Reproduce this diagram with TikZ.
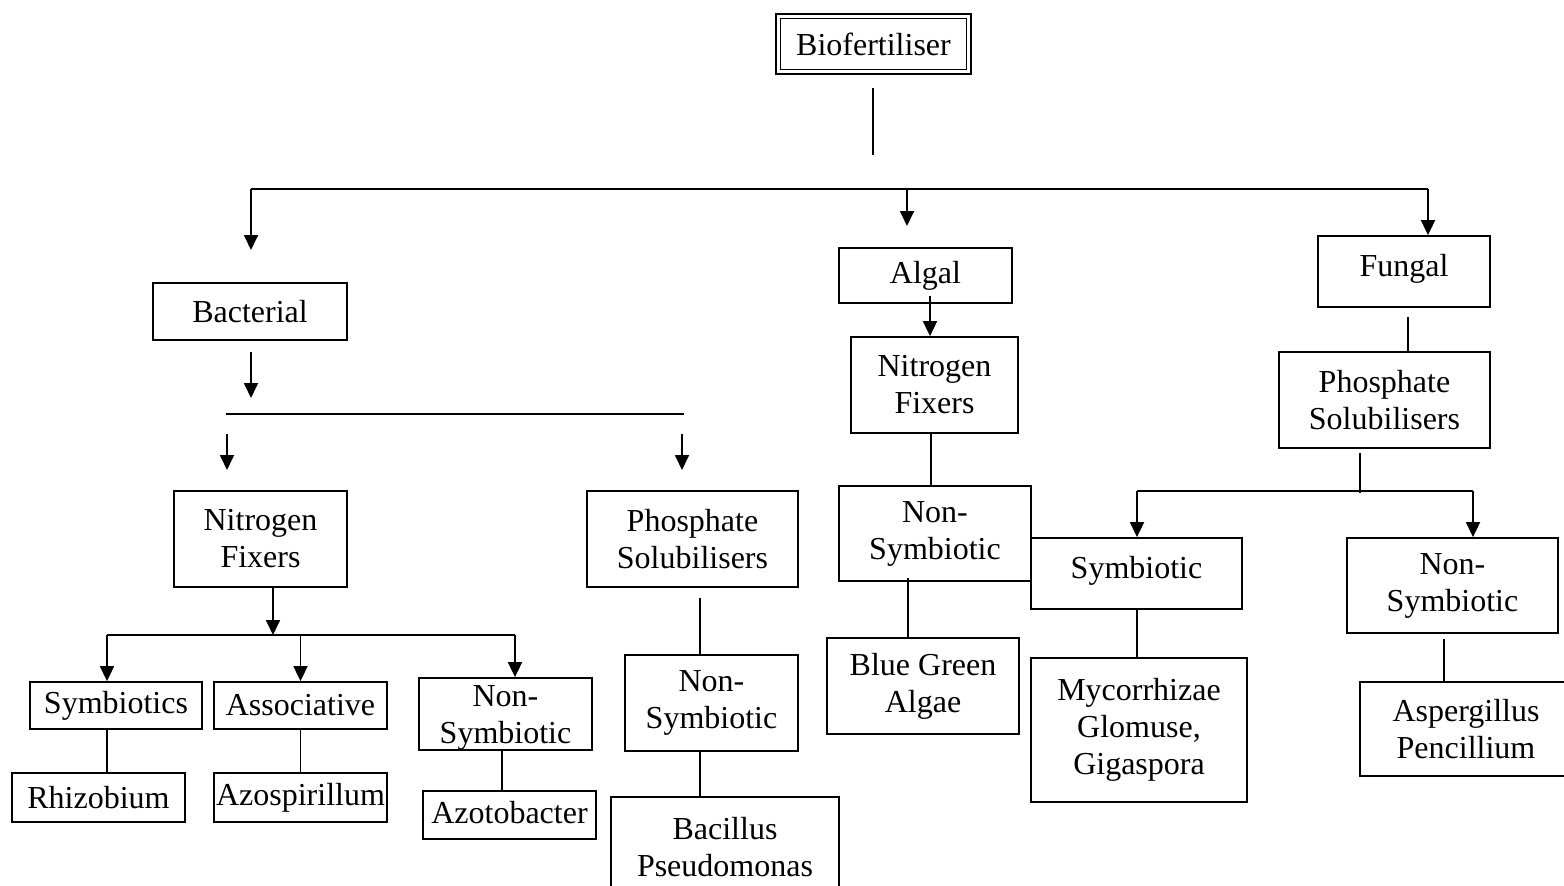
\documentclass[tikz,border=0pt]{standalone}
\usepackage{fontspec}
\setmainfont{Liberation Serif}
\usetikzlibrary{arrows.meta}
\begin{document}
\begin{tikzpicture}[x=1pt,y=-1pt,
  box/.style={draw, line width=1.8pt, inner sep=0pt, align=center, font=\fontsize{32}{37}\selectfont},
  dbox/.style={box, line width=1.6pt, double, double distance=3pt},
  ln/.style={line width=1.8pt},
  arr/.style={line width=1.8pt, -{Triangle[length=15pt,width=14pt]}}]
\useasboundingbox (0,0) rectangle (1564,886);
% nodes
\node[dbox, minimum width=190.8pt, minimum height=55.8pt] (bio) at (873.5,44) {Biofertiliser};
\node[box, minimum width=194pt, minimum height=57pt] (bact) at (250,311.5) {Bacterial};
\node[box, minimum width=173pt, minimum height=55pt] (alg) at (925.5,275.5) {Algal};
\node[box, minimum width=172pt, minimum height=71pt, text depth=13pt] (fun) at (1404,271.5) {Fungal};
\node[box, minimum width=173pt, minimum height=96pt] (nfb) at (260.5,539) {Nitrogen\\Fixers};
\node[box, minimum width=211pt, minimum height=96pt] (psb) at (692.5,539) {Phosphate\\Solubilisers};
\node[box, minimum width=172pt, minimum height=47pt] (sym1) at (116,705.5) {Symbiotics};
\node[box, minimum width=173pt, minimum height=47pt] (ass) at (300.5,705.5) {Associative};
\node[box, minimum width=173pt, minimum height=72pt] (nsb) at (505.5,714) {\rule{0pt}{28pt}Non-\\Symbiotic};
\node[box, minimum width=173pt, minimum height=49pt] (rhi) at (98.5,797.5) {Rhizobium};
\node[box, minimum width=173pt, minimum height=49pt] (azs) at (300.5,797.5) {Azospirillum};
\node[box, minimum width=173pt, minimum height=48pt, text depth=6pt] (azt) at (509.5,815) {Azotobacter};
\node[box, minimum width=173pt, minimum height=96pt] (nsp) at (711.5,703) {Non-\\Symbiotic};
\node[box, minimum width=228pt, minimum height=100pt] (bac) at (725,847) {Bacillus\\Pseudomonas};
\node[box, minimum width=167pt, minimum height=96pt] (nfa) at (934.5,385) {Nitrogen\\Fixers};
\node[box, minimum width=192pt, minimum height=95pt] (nsa) at (935,533.5) {Non-\\Symbiotic};
\node[box, minimum width=192pt, minimum height=96pt] (bga) at (923,686) {Blue Green\\Algae};
\node[box, minimum width=211pt, minimum height=96pt] (psf) at (1384.5,400) {Phosphate\\Solubilisers};
\node[box, minimum width=211pt, minimum height=71pt, text depth=13pt] (symf) at (1136.5,573.5) {Symbiotic};
\node[box, minimum width=211pt, minimum height=95pt] (nsf) at (1452.5,585.5) {Non-\\Symbiotic};
\node[box, minimum width=216pt, minimum height=144pt] (myc) at (1139,730) {Mycorrhizae\\Glomuse,\\Gigaspora};
\node[box, minimum width=212pt, minimum height=94pt] (asp) at (1466,729) {Aspergillus\\Pencillium};
% free ends
\coordinate (t1) at (873,88);
\coordinate (t2) at (873,155);
\coordinate (bL) at (251,189);
\coordinate (bM) at (907,189);
\coordinate (bR) at (1428,189);
\coordinate (aB) at (251,250);
\coordinate (aA) at (907,226);
\coordinate (c1) at (251,352);
\coordinate (c2) at (251,398);
\coordinate (d1) at (226,414);
\coordinate (d2) at (684,414);
\coordinate (e1) at (227,434);
\coordinate (e2) at (227,470);
\coordinate (e3) at (682,434);
\coordinate (e4) at (682,470);
\coordinate (g0) at (273,635);
\coordinate (g1) at (107,635);
\coordinate (g2) at (515,635);
\coordinate (h1) at (700,598);
\coordinate (k0) at (1360,493);
\coordinate (k1) at (1137,491);
\coordinate (k2) at (1473,491);
% connectors
\draw[ln] (t1) -- (t2);
\draw[ln] (bL) -- (bR);
\draw[arr] (bL) -- (aB);
\draw[arr] (bM) -- (aA);
\draw[arr] (bR) -- (bR |- fun.north);
\draw[arr] (c1) -- (c2);
\draw[ln] (d1) -- (d2);
\draw[arr] (e1) -- (e2);
\draw[arr] (e3) -- (e4);
\draw[arr] (nfb.south -| g0) -- (g0);
\draw[ln] (g1) -- (g2);
\draw[arr] (g1) -- (sym1.north -| g1);
\draw[arr] (ass.north |- g1) -- (ass.north);
\draw[arr] (g2) -- (nsb.north -| g2);
\draw[ln] (sym1.south -| g1) -- (rhi.north -| g1);
\draw[ln] (ass.south) -- (azs.north);
\draw[ln] ([xshift=-3.5pt]nsb.south) -- ([xshift=-7.5pt]azt.north);
\draw[ln] (h1) -- (nsp.north -| h1);
\draw[ln] (nsp.south -| h1) -- (bac.north -| h1);
\draw[arr] ([xshift=4.5pt,yshift=8pt]alg.south) -- ([xshift=-4.5pt]nfa.north);
\draw[ln] ([xshift=-3.5pt]nfa.south) -- ([xshift=-4pt]nsa.north);
\draw[ln] ([xshift=-27pt,yshift=4pt]nsa.south) -- ([xshift=-15pt]bga.north);
\draw[ln] ([xshift=4pt,yshift=-9pt]fun.south) -- ([xshift=23.5pt]psf.north);
\draw[ln] ([xshift=-24.5pt,yshift=-4pt]psf.south) -- (k0);
\draw[ln] (k1) -- (k2);
\draw[arr] (k1) -- (symf.north -| k1);
\draw[arr] (k2) -- (nsf.north -| k2);
\draw[ln] (symf.south -| k1) -- (myc.north -| k1);
\draw[ln] ([xshift=-8.5pt,yshift=-5pt]nsf.south) -- ([xshift=-22pt]asp.north);
\end{tikzpicture}
\end{document}
